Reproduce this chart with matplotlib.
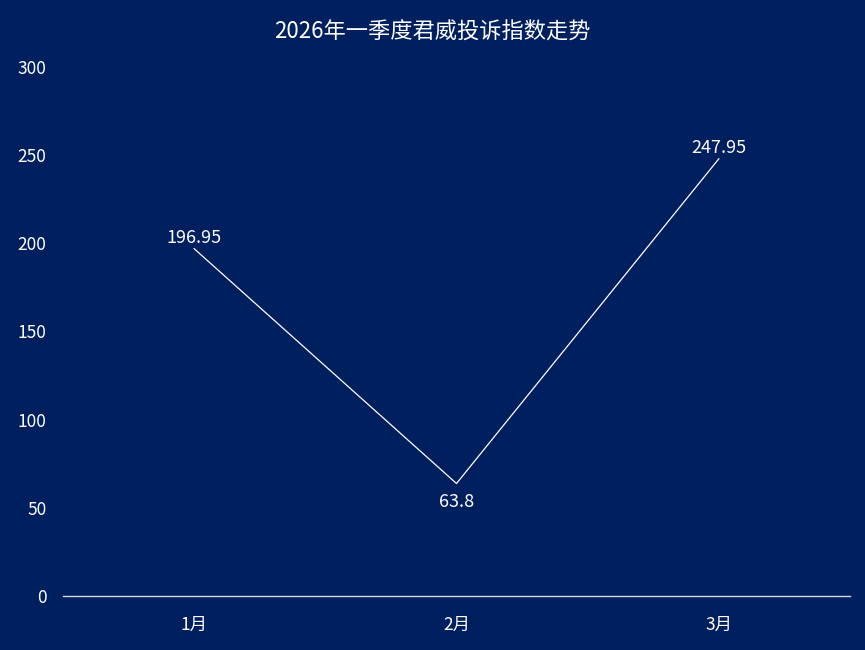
import matplotlib
matplotlib.use("Agg")
import matplotlib.pyplot as plt

plt.rcParams['font.family'] = ['Noto Sans CJK SC', 'DejaVu Sans']

categories = ["1月", "2月", "3月"]
values = [196.95, 63.8, 247.95]
label_pos = ["above", "below", "above"]
title = "2026年一季度君威投诉指数走势"

BG = "#001F5F"
fig = plt.figure(figsize=(8.65, 6.5), dpi=100, facecolor=BG)
ax = fig.add_axes([63/865, 54/650, 787/865, 529/650], facecolor=BG)

x = list(range(len(categories)))
ax.plot(x, values, color="white", linewidth=0.9)
for xi, v, pos in zip(x, values, label_pos):
    if pos == "above":
        ax.annotate(f"{v:g}", (xi, v), xytext=(0, 1.5), textcoords="offset points",
                    ha="center", va="bottom", color="white", fontsize=13)
    else:
        ax.annotate(f"{v:g}", (xi, v), xytext=(0, -6.5), textcoords="offset points",
                    ha="center", va="top", color="white", fontsize=13)

ax.set_xlim(-0.5, len(categories) - 0.5)
ax.set_ylim(0, 300)
ax.set_yticks([0, 50, 100, 150, 200, 250, 300])
ax.set_xticks(x)
ax.set_xticklabels(categories)
for s in ["top", "right", "left"]:
    ax.spines[s].set_visible(False)
ax.spines["bottom"].set_color("#D9D9D9")
ax.spines["bottom"].set_linewidth(1)
ax.tick_params(axis="both", length=0, colors="white", labelsize=12.5)
ax.tick_params(axis="y", pad=12)
ax.tick_params(axis="x", pad=14)

fig.text(0.5, 1 - 32/650, title, ha="center", va="center", color="white", fontsize=16)

fig.savefig("out.png", dpi=100, facecolor=BG)
